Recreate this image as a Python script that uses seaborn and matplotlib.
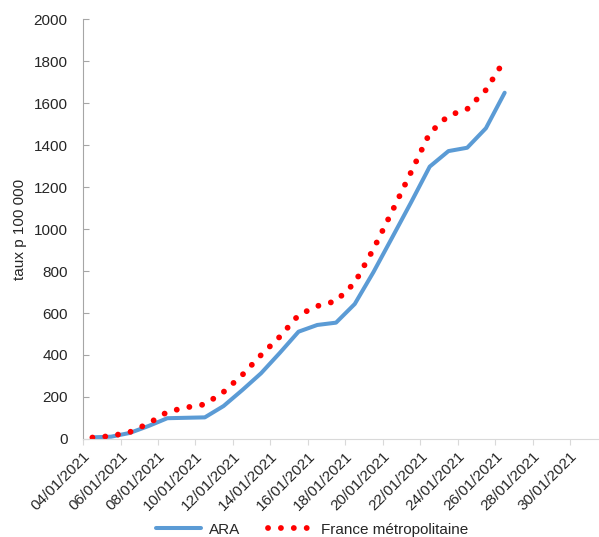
import matplotlib
matplotlib.use("Agg")
import matplotlib.pyplot as plt
import seaborn as sns
import pandas as pd

# daily incidence, 04/01/2021 -> 26/01/2021
days = list(range(23))
ara = [8, 11, 29, 62, 99, 101, 103, 157, 233, 313, 410, 511, 543, 554,
       643, 795, 960, 1126, 1297, 1371, 1387, 1480, 1649]
france = [7, 14, 33, 74, 129, 150, 165, 224, 305, 400, 487, 590, 633, 657,
          744, 905, 1085, 1270, 1457, 1540, 1571, 1662, 1805]
tick_labels = ["04/01/2021", "06/01/2021", "08/01/2021", "10/01/2021",
               "12/01/2021", "14/01/2021", "16/01/2021", "18/01/2021",
               "20/01/2021", "22/01/2021", "24/01/2021", "26/01/2021",
               "28/01/2021", "30/01/2021"]
y_ticks = [0, 200, 400, 600, 800, 1000, 1200, 1400, 1600, 1800, 2000]

BLUE = '#5b9bd5'
RED = '#ff0000'

sns.set_style("white")
plt.rcParams['font.family'] = ['Liberation Sans', 'DejaVu Sans']

# points sit in the middle of each day slot (Excel "between tick marks")
df = pd.DataFrame({"x": [d + 0.5 for d in days], "ARA": ara,
                   "France métropolitaine": france})

fig = plt.figure(figsize=(5.99, 5.37), dpi=100)
ax = fig.add_axes([0.1386, 0.1825, 0.8594, 0.7821])

sns.lineplot(data=df, x="x", y="ARA", ax=ax, color=BLUE, linewidth=2.9,
             label="ARA")
sns.lineplot(data=df, x="x", y="France métropolitaine", ax=ax, color=RED,
             linewidth=4.2, label="France métropolitaine",
             linestyle=(0, (0.01, 2.2)), dash_capstyle='round')

ax.set_xlim(0, 27.47)
ax.set_ylim(0, 2000)
ax.set_xticks(range(0, 28, 2))
ax.set_xticklabels(tick_labels, rotation=45, ha='right',
                   rotation_mode='anchor', fontsize=11)
ax.set_yticks(y_ticks)
ax.set_yticklabels([str(v) for v in y_ticks], fontsize=11)
ax.set_xlabel("")
ax.set_ylabel("taux p 100 000", fontsize=11, labelpad=5)

for s in ['top', 'right']:
    ax.spines[s].set_visible(False)
ax.spines['left'].set_color('#a6a6a6')
ax.spines['bottom'].set_color('#d9d9d9')
ax.tick_params(axis='y', direction='in', length=4, color='#a6a6a6',
               left=True, pad=11)
ax.tick_params(axis='x', direction='out', length=4, color='#d9d9d9',
               bottom=True, pad=3)
ax.grid(False)

ax.legend(loc='lower center', bbox_to_anchor=(0.445, -0.265), ncol=2,
          frameon=False, fontsize=11, handlelength=3.0, columnspacing=1.8,
          handletextpad=0.5, bbox_transform=ax.transAxes)

fig.savefig("out.png", dpi=100)
